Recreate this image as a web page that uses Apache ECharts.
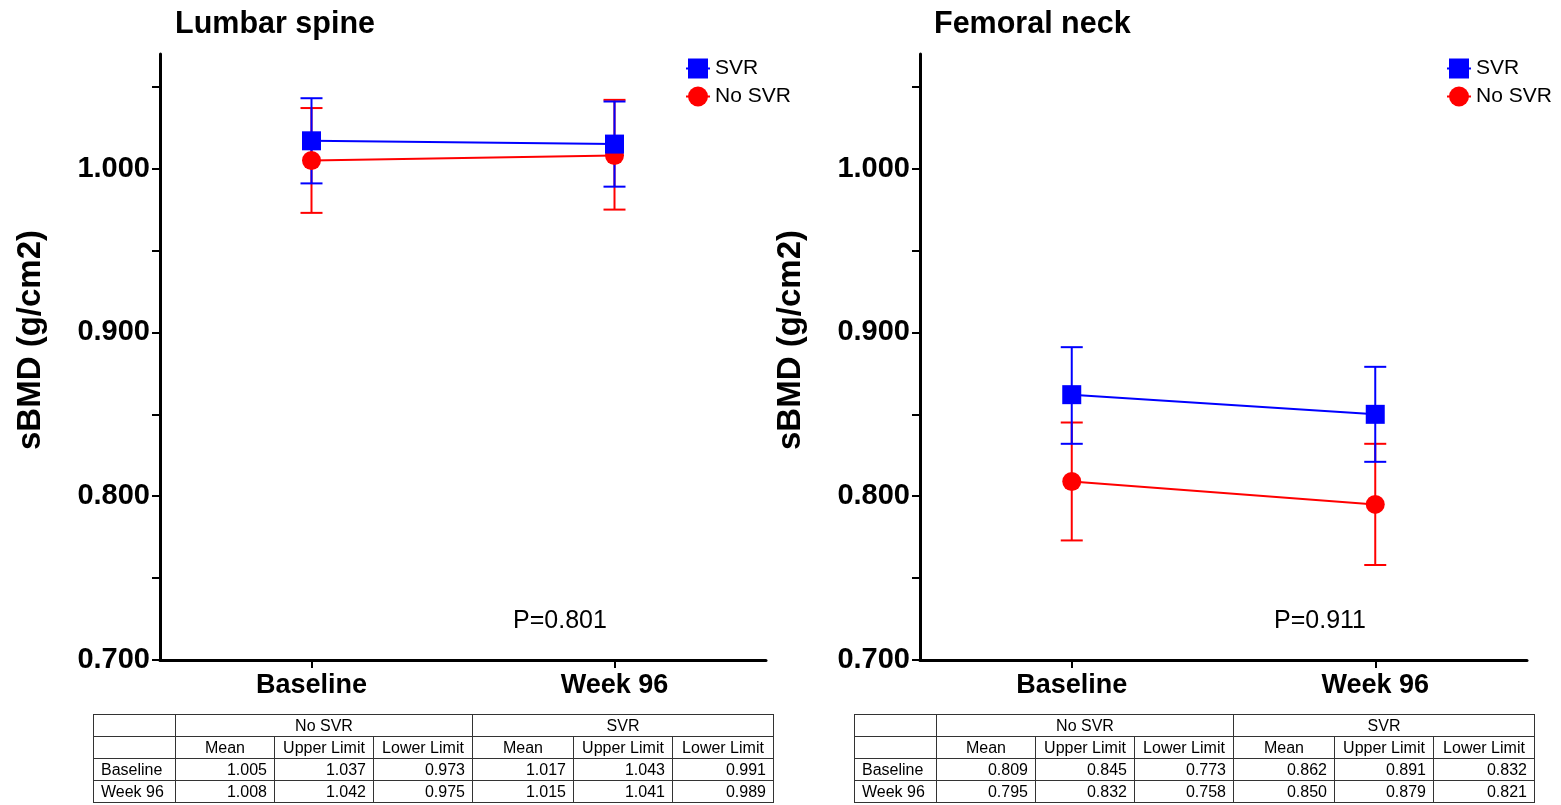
<!DOCTYPE html>
<html>
<head>
<meta charset="utf-8">
<script src="https://cdn.jsdelivr.net/npm/echarts@6/dist/echarts.min.js"></script>
<style>
  html, body { margin: 0; padding: 0; background: #fff; }
  #chart { position: absolute; left: 0; top: 0; width: 1561px; height: 805px; }
  table.dt { position: absolute; border-collapse: collapse; table-layout: fixed; width: 680px;
    font-family: "Liberation Sans", Arial, sans-serif; font-size: 16px; color: #000; z-index: 2; }
  table.dt td { border: 1px solid #333; height: 21px; padding: 0 7px; white-space: nowrap; line-height: 20px; }
  table.dt td.c { text-align: center; }
  table.dt td.r { text-align: right; }
  table.dt td.l { text-align: left; }
</style>
</head>
<body>
<div id="chart"></div>
<script>
// ---------- data ----------
const categories = ['Baseline', 'Week 96'];
const panelTitles = ['Lumbar spine', 'Femoral neck'];
const pValueLabels = ['P=0.801', 'P=0.911'];
const yAxisName = 'sBMD (g/cm2)';
const seriesNames = ['SVR', 'No SVR'];
const yTickValues = [0.70, 0.75, 0.80, 0.85, 0.90, 0.95, 1.00, 1.05];
const yLabelValues = [0.70, 0.80, 0.90, 1.00];

// Lumbar spine
const lumbarNoSvrMean  = [1.005, 1.008];
const lumbarNoSvrUpper = [1.037, 1.042];
const lumbarNoSvrLower = [0.973, 0.975];
const lumbarSvrMean    = [1.017, 1.015];
const lumbarSvrUpper   = [1.043, 1.041];
const lumbarSvrLower   = [0.991, 0.989];

// Femoral neck
const femoralNoSvrMean  = [0.809, 0.795];
const femoralNoSvrUpper = [0.845, 0.832];
const femoralNoSvrLower = [0.773, 0.758];
const femoralSvrMean    = [0.862, 0.850];
const femoralSvrUpper   = [0.891, 0.879];
const femoralSvrLower   = [0.832, 0.821];

// ---------- layout / styles ----------
const FONT = '"Liberation Sans", Arial, Helvetica, sans-serif';
const BLUE = '#0000ff';
const RED = '#ff0000';
const panels = [
  { left: 160, width: 606, legendLeft: 685, titleLeft: 170, pX: 560, nameX: 31, tableLeft: 93,
    noSvr: [lumbarNoSvrMean, lumbarNoSvrUpper, lumbarNoSvrLower],
    svr: [lumbarSvrMean, lumbarSvrUpper, lumbarSvrLower] },
  { left: 920, width: 607, legendLeft: 1446, titleLeft: 929, pX: 1320, nameX: 791, tableLeft: 854,
    noSvr: [femoralNoSvrMean, femoralNoSvrUpper, femoralNoSvrLower],
    svr: [femoralSvrMean, femoralSvrUpper, femoralSvrLower] }
];
const GRID_TOP = 54, GRID_H = 606;

function errorBarRender(color) {
  return function (params, api) {
    const x = api.value(0);
    const pLo = api.coord([x, api.value(1)]);
    const pHi = api.coord([x, api.value(2)]);
    const hw = 11;
    const st = { stroke: color, lineWidth: 2 };
    return { type: 'group', children: [
      { type: 'line', shape: { x1: pHi[0], y1: pHi[1], x2: pLo[0], y2: pLo[1] }, style: st },
      { type: 'line', shape: { x1: pHi[0] - hw, y1: pHi[1], x2: pHi[0] + hw, y2: pHi[1] }, style: st },
      { type: 'line', shape: { x1: pLo[0] - hw, y1: pLo[1], x2: pLo[0] + hw, y2: pLo[1] }, style: st }
    ]};
  };
}

const grids = [], xAxes = [], yAxes = [], series = [], legends = [], titles = [], graphics = [];
panels.forEach((p, i) => {
  grids.push({ left: p.left, top: GRID_TOP, width: p.width, height: GRID_H });
  xAxes.push({
    type: 'category', gridIndex: i, data: categories, boundaryGap: true,
    axisLine: { show: true, lineStyle: { color: '#000', width: 3 } },
    axisTick: { show: true, alignWithLabel: true, length: 8, lineStyle: { color: '#000', width: 2 } },
    axisLabel: { color: '#000', fontFamily: FONT, fontWeight: 'bold', fontSize: 27, margin: 12 },
    splitLine: { show: false }
  });
  yAxes.push({
    type: 'value', gridIndex: i, min: 0.7, max: 1.07,
    axisLine: { show: true, lineStyle: { color: '#000', width: 3 } },
    axisTick: { show: true, length: 8, lineStyle: { color: '#000', width: 2 }, customValues: yTickValues },
    axisLabel: { color: '#000', fontFamily: FONT, fontWeight: 'bold', fontSize: 29, margin: 10,
      customValues: yLabelValues, formatter: v => Number(v).toFixed(3) },
    splitLine: { show: false }
  });
  const groups = [
    { name: 'No SVR', color: RED, d: p.noSvr, symbol: 'circle', z: 3 },
    { name: 'SVR', color: BLUE, d: p.svr, symbol: 'rect', z: 4 }
  ];
  groups.forEach(g => {
    series.push({
      type: 'custom', name: g.name + ' CI', xAxisIndex: i, yAxisIndex: i, z: 2,
      renderItem: errorBarRender(g.color),
      data: categories.map((c, k) => [k, g.d[2][k], g.d[1][k]]),
      silent: true
    });
  });
  groups.forEach(g => {
    series.push({
      type: 'line', name: g.name, xAxisIndex: i, yAxisIndex: i, z: g.z,
      data: g.d[0], symbol: g.symbol, symbolSize: 19, showSymbol: true,
      lineStyle: { color: g.color, width: 2 }, itemStyle: { color: g.color },
      animation: false
    });
  });
  legends.push({
    orient: 'vertical', left: p.legendLeft, top: 58, itemWidth: 24, itemHeight: 25, itemGap: 7,
    data: seriesNames, selectedMode: false, padding: 0,
    textStyle: { color: '#000', fontFamily: FONT, fontSize: 21 }
  });
  titles.push({
    text: panelTitles[i], left: p.titleLeft, top: 4,
    textStyle: { color: '#000', fontFamily: FONT, fontWeight: 'bold', fontSize: 30.5 }
  });
  graphics.push({
    type: 'text', x: p.pX, y: 621,
    style: { text: pValueLabels[i], fill: '#000', font: '25px ' + FONT, align: 'center', verticalAlign: 'middle' }
  });
  graphics.push({
    type: 'text', x: p.nameX, y: 340, rotation: Math.PI / 2,
    style: { text: yAxisName, fill: '#000', font: 'bold 33px ' + FONT, align: 'center', verticalAlign: 'middle' }
  });
});

const chart = echarts.init(document.getElementById('chart'), null, { renderer: 'canvas' });
chart.setOption({
  backgroundColor: '#fff',
  animation: false,
  title: titles,
  legend: legends,
  grid: grids,
  xAxis: xAxes,
  yAxis: yAxes,
  series: series,
  graphic: graphics
});

// ---------- tables ----------
function fmt(v) { return v.toFixed(3); }
panels.forEach(p => {
  const t = document.createElement('table');
  t.className = 'dt';
  t.style.left = p.tableLeft + 'px';
  t.style.top = '714px';
  const widths = [82, 99, 99, 99, 101, 99, 101];
  let html = '<colgroup>' + widths.map(w => '<col style="width:' + w + 'px">').join('') + '</colgroup>';
  html += '<tr><td></td><td class="c" colspan="3">No SVR</td><td class="c" colspan="3">SVR</td></tr>';
  html += '<tr><td></td>' + ['Mean', 'Upper Limit', 'Lower Limit', 'Mean', 'Upper Limit', 'Lower Limit']
    .map(h => '<td class="c">' + h + '</td>').join('') + '</tr>';
  categories.forEach((c, k) => {
    const vals = [p.noSvr[0][k], p.noSvr[1][k], p.noSvr[2][k], p.svr[0][k], p.svr[1][k], p.svr[2][k]];
    html += '<tr><td class="l">' + c + '</td>' + vals.map(v => '<td class="r">' + fmt(v) + '</td>').join('') + '</tr>';
  });
  t.innerHTML = html;
  document.body.appendChild(t);
});
</script>
</body>
</html>
